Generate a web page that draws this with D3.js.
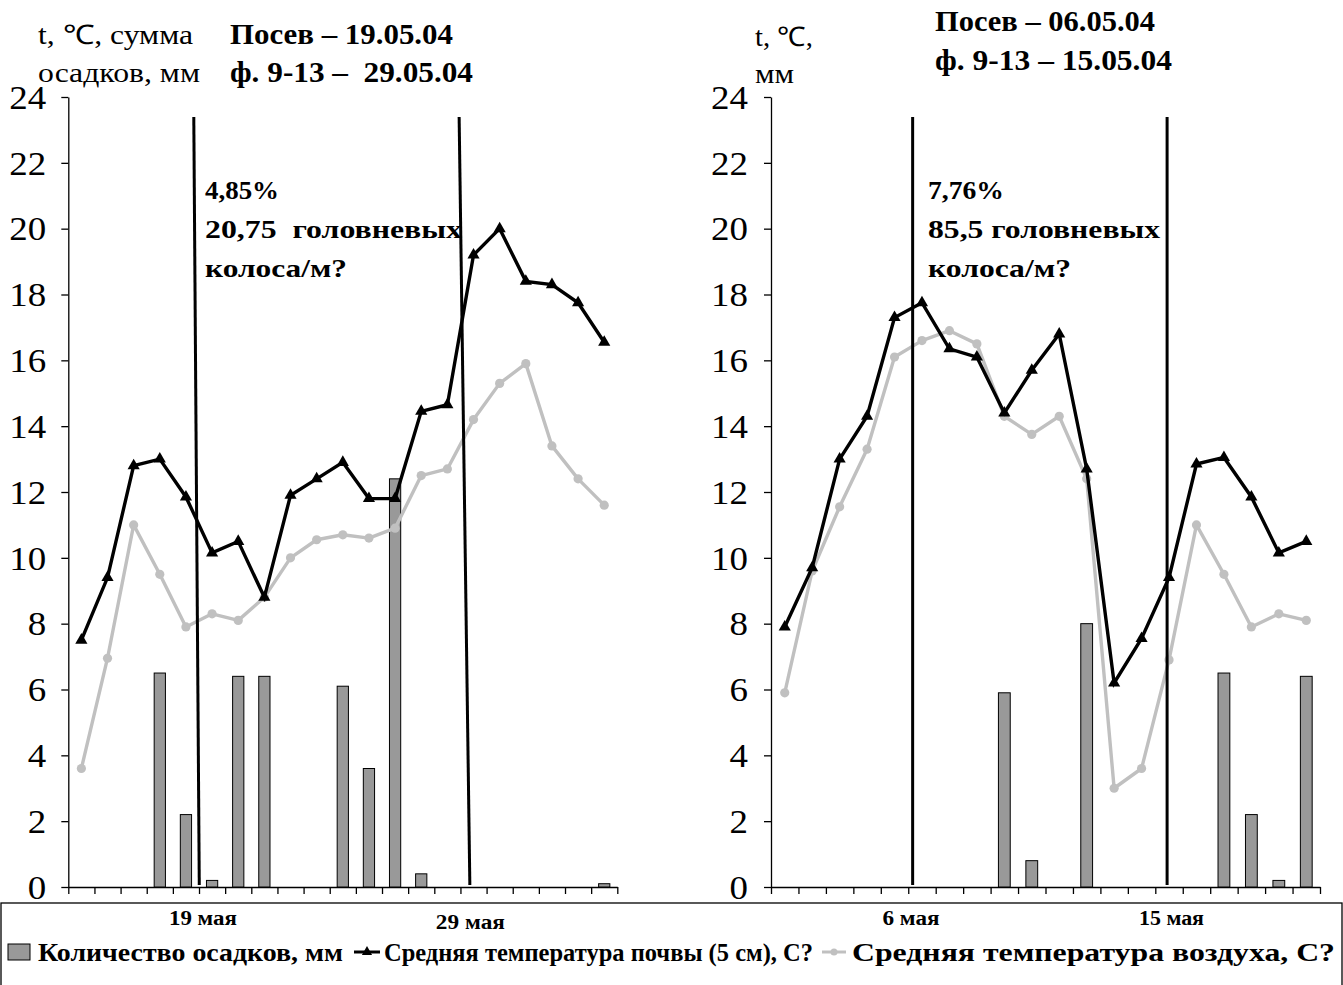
<!DOCTYPE html>
<html><head><meta charset="utf-8">
<script src="https://cdn.jsdelivr.net/npm/d3@7"></script>
<style>
html,body{margin:0;padding:0;background:#fff;}
svg{display:block;}
text{font-family:"Liberation Serif","Times New Roman",serif;fill:#000;white-space:pre;}
</style></head>
<body>
<svg id="chart" width="1343" height="985"></svg>
<script>
// ---------- DATA ----------
const leftDates = ["14.05","15.05","16.05","17.05","18.05","19.05","20.05","21.05","22.05","23.05","24.05",
                   "25.05","26.05","27.05","28.05","29.05","30.05","31.05","01.06","02.06","03.06"];
const leftRain  = [0,0,0,6.5,2.2,0.2,6.4,6.4,0,0,6.1,3.6,12.4,0.4,0,0,0,0,0,0,0.1];
const leftSoil  = [7.5,9.4,12.8,13.0,11.85,10.15,10.5,8.8,11.9,12.4,12.9,11.8,11.8,14.45,14.65,19.2,20.0,18.4,18.3,17.75,16.55];
const leftAir   = [3.6,6.95,11.0,9.5,7.9,8.3,8.1,8.8,10.0,10.55,10.7,10.6,10.9,12.5,12.7,14.2,15.3,15.9,13.4,12.4,11.6];

const rightDates = ["01.05","02.05","03.05","04.05","05.05","06.05","07.05","08.05","09.05","10.05",
                    "11.05","12.05","13.05","14.05","15.05","16.05","17.05","18.05","19.05","20.05"];
const rightRain = [0,0,0,0,0,0,0,0,5.9,0.8,0,8.0,0,0,0,0,6.5,2.2,0.2,6.4];
const rightSoil = [7.9,9.7,13.0,14.3,17.3,17.75,16.35,16.1,14.4,15.7,16.8,12.7,6.2,7.55,9.4,12.85,13.05,11.85,10.15,10.5];
const rightAir  = [5.9,9.6,11.55,13.3,16.1,16.6,16.9,16.5,14.3,13.75,14.3,12.4,3.0,3.6,6.9,11.0,9.5,7.9,8.3,8.1];

const yTicks = [0,2,4,6,8,10,12,14,16,18,20,22,24];
const leftXLabels  = [{date:"19.05", text:"19 мая"}, {date:"29.05", text:"29 мая"}];
const rightXLabels = [{date:"06.05", text:"6 мая"},  {date:"15.05", text:"15 мая"}];
const leftMarks  = ["19.05","29.05"];   // посев, фаза 9-13
const rightMarks = ["06.05","15.05"];

const leftTitle   = ["t, \u2103, сумма", "осадков, мм"];
const rightTitle  = ["t, \u2103,", "мм"];
const leftHead    = ["Посев – 19.05.04", "ф. 9-13 –  29.05.04"];
const rightHead   = ["Посев – 06.05.04", "ф. 9-13 – 15.05.04"];
const leftNote    = ["4,85%", "20,75  головневых", "колоса/м?"];
const rightNote   = ["7,76%", "85,5 головневых", "колоса/м?"];
const legendItems = ["Количество осадков, мм", "Средняя температура почвы (5 см), С?", "Средняя температура воздуха, С?"];

// ---------- LAYOUT ----------
const svg = d3.select("#chart");
const Y0 = 887, Y1 = 97;
const y = d3.scaleLinear().domain([0,24]).range([Y0, Y1]);
const AIR = "#c0c0c0", BAR = "#999999";

function txt(g, x, yy, s, size, bold, len, anchor){
  const t = g.append("text").attr("x",x).attr("y",yy).attr("font-size",size)
    .attr("font-weight",bold?"bold":"normal").attr("text-anchor",anchor||"start")
    .attr("xml:space","preserve").text(s);
  if(len){ t.attr("textLength",len).attr("lengthAdjust","spacingAndGlyphs"); }
  return t;
}

function panel(cfg){
  const g = svg.append("g");
  const x = d3.scaleBand().domain(cfg.dates).range([cfg.x0, cfg.x1]).padding(0);
  const bw = x.bandwidth();
  const cx = d => x(d) + bw/2;
  const barW = bw*0.43;

  // y axis
  g.append("g").attr("transform",`translate(${cfg.x0},0)`)
    .call(d3.axisLeft(y).tickValues(yTicks).tickSize(7).tickSizeOuter(0))
    .call(a=>{a.selectAll("path,line").attr("stroke","#000").attr("stroke-width",1.3);
              a.selectAll("text").attr("font-size",33).attr("font-family","Liberation Serif")
                .attr("x",0).attr("dy","0.34em")
                .attr("transform",`translate(${-(7+cfg.pad)},0) scale(1.12,1)`);});

  // x axis (ticks at category boundaries)
  const xi = d3.scaleLinear().domain([0, cfg.dates.length]).range([cfg.x0, cfg.x1]);
  g.append("g").attr("transform",`translate(0,${Y0})`)
    .call(d3.axisBottom(xi).tickValues(d3.range(0, cfg.dates.length+1)).tickFormat("").tickSize(7).tickSizeOuter(0))
    .call(a=>{a.selectAll("path,line").attr("stroke","#000").attr("stroke-width",1.3);});

  // x labels
  cfg.xLabels.forEach((d,i)=>txt(g, cx(d.date)+cfg.labShift[i]*bw, cfg.labY[i], d.text, 20, true, cfg.labLen[i], "middle"));

  // bars
  g.selectAll(".bar").data(cfg.dates.map((d,i)=>({d,v:cfg.rain[i]})).filter(o=>o.v>0)).join("rect")
    .attr("x",o=>cx(o.d)-barW/2).attr("width",barW)
    .attr("y",o=>y(o.v)).attr("height",o=>Y0-y(o.v))
    .attr("fill",BAR).attr("stroke","#000").attr("stroke-width",1);

  const line = d3.line().x((v,i)=>cx(cfg.dates[i])).y(v=>y(v));
  // air line
  g.append("path").attr("d",line(cfg.air)).attr("fill","none").attr("stroke",AIR).attr("stroke-width",3.4).attr("stroke-linejoin","round");
  g.selectAll(".airp").data(cfg.air).join("circle")
    .attr("cx",(v,i)=>cx(cfg.dates[i])).attr("cy",v=>y(v)).attr("r",4.6).attr("fill",AIR);
  // soil line
  g.append("path").attr("d",line(cfg.soil)).attr("fill","none").attr("stroke","#000").attr("stroke-width",3.4).attr("stroke-linejoin","miter");
  const tri = d3.symbol().type(d3.symbolTriangle).size(64);
  g.selectAll(".soilp").data(cfg.soil).join("path")
    .attr("d",tri).attr("transform",(v,i)=>`translate(${cx(cfg.dates[i])},${y(v)})`).attr("fill","#000");

  // vertical marker lines
  g.selectAll(".vm").data(cfg.marks).join("line")
    .attr("x1",(d,i)=>cx(d)+cfg.markTop[i]*bw).attr("y1",117)
    .attr("x2",(d,i)=>cx(d)+cfg.markBot[i]*bw).attr("y2",885)
    .attr("stroke","#000").attr("stroke-width",3);

  // titles
  cfg.title.forEach((t,i)=>txt(g, cfg.titleX, cfg.titleY[i], t, 27, false, cfg.titleLen[i]));
  cfg.head.forEach((t,i)=>txt(g, cfg.headX, cfg.headY[i], t, 29, true, cfg.headLen[i]));
  cfg.note.forEach((t,i)=>txt(g, cfg.noteX, 199+i*39, t, 26, true, cfg.noteLen[i]));
}

panel({dates:leftDates, rain:leftRain, soil:leftSoil, air:leftAir, x0:68.3, x1:617.3, pad:15,
  xLabels:leftXLabels, labShift:[-0.35,-0.12], labY:[925,929], labLen:[68,69],
  marks:leftMarks, markTop:[-0.70,-0.55], markBot:[-0.49,-0.14],
  title:leftTitle, titleX:38, titleY:[44,82], titleLen:[155,162],
  head:leftHead, headX:230, headY:[44,82], headLen:[223,243],
  note:leftNote, noteX:205, noteLen:[74,257,142]});

panel({dates:rightDates, rain:rightRain, soil:rightSoil, air:rightAir, x0:771, x1:1320, pad:16,
  xLabels:rightXLabels, labShift:[-0.4,0.09], labY:[925,925], labLen:[57,65],
  marks:rightMarks, markTop:[-0.34,-0.07], markBot:[-0.34,-0.07],
  title:rightTitle, titleX:755, titleY:[46,83], titleLen:[58,39],
  head:rightHead, headX:935, headY:[31,70], headLen:[220,237],
  note:rightNote, noteX:928, noteLen:[76,232,143]});

// ---------- LEGEND ----------
const lg = svg.append("g");
lg.append("rect").attr("x",1).attr("y",903).attr("width",1341).attr("height",120).attr("fill","none").attr("stroke","#000").attr("stroke-width",1.3);
const LY = 952;
lg.append("rect").attr("x",8).attr("y",LY-8).attr("width",22).attr("height",16).attr("fill",BAR).attr("stroke","#000");
txt(lg, 38, LY+9, legendItems[0], 26, true, 305);
lg.append("line").attr("x1",354).attr("x2",380).attr("y1",LY).attr("y2",LY).attr("stroke","#000").attr("stroke-width",3);
lg.append("path").attr("d",d3.symbol().type(d3.symbolTriangle).size(45)).attr("transform",`translate(367,${LY})`);
txt(lg, 384, LY+9, legendItems[1], 26, true, 429);
lg.append("line").attr("x1",822).attr("x2",846).attr("y1",LY).attr("y2",LY).attr("stroke",AIR).attr("stroke-width",3);
lg.append("circle").attr("cx",834).attr("cy",LY).attr("r",3.5).attr("fill",AIR);
txt(lg, 852, LY+9, legendItems[2], 26, true, 483);
</script>
</body></html>
